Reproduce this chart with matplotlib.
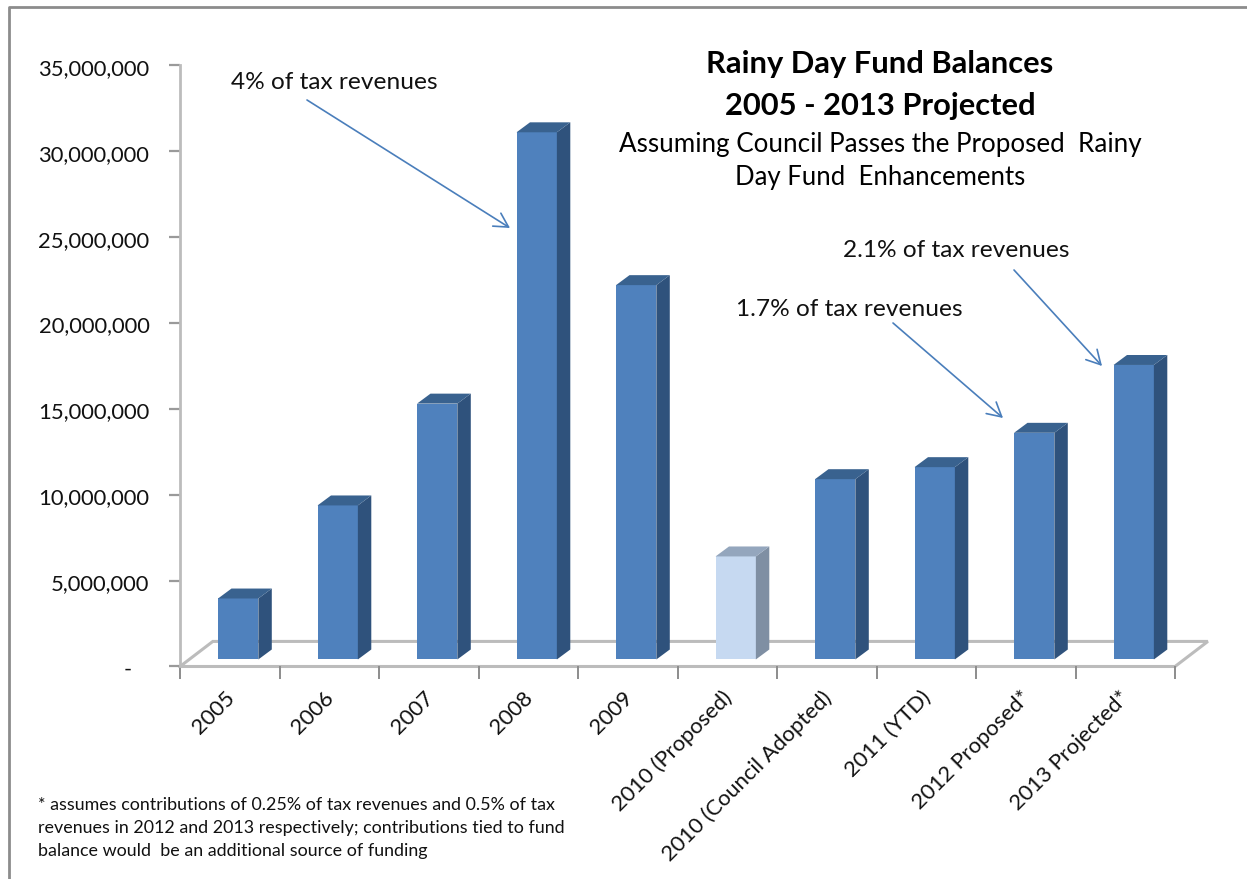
import matplotlib
matplotlib.use("Agg")
import matplotlib.pyplot as plt
from matplotlib.lines import Line2D
from matplotlib.patches import Polygon
from matplotlib.transforms import ScaledTranslation

plt.rcParams['font.family'] = ['Lato', 'DejaVu Sans']

W, H = 1247, 879

categories = ['2005', '2006', '2007', '2008', '2009', '2010 (Proposed)',
              '2010 (Council Adopted)', '2011 (YTD)', '2012 Proposed*', '2013 Projected*']
values = [3550000, 8970000, 14900000, 30700000, 21800000, 6000000,
          10500000, 11200000, 13200000, 17150000]
y_ticks = [0, 5000000, 10000000, 15000000, 20000000, 25000000, 30000000, 35000000]
highlight = '2010 (Proposed)'

footnote = ['* assumes contributions of 0.25% of tax revenues and 0.5% of tax',
            'revenues in 2012 and 2013 respectively; contributions tied to fund',
            'balance would  be an additional source of funding']


def px(x, y):
    # pixel position in the picture -> figure fraction
    return x / W, 1 - y / H


fig = plt.figure(figsize=((W + 0.01) / 100, (H + 0.01) / 100), dpi=100)
ax = fig.add_axes([180 / W, 1 - 666.5 / H, 995 / W, 601 / H])
ax.set_xlim(0, 10)
ax.set_ylim(0, 35000000)
ax.patch.set_alpha(0)

# chart frame
frame = '#8c8c8c'
fig.add_artist(Line2D([9 / W, 9 / W, 1], [0, 1 - 7 / H, 1 - 7 / H], color=frame, lw=2))

# floor of the 3D chart
grey = '#bcbcbc'
floor_x = 0.33
floor_y = 1460000
ax.plot([0, 10, 10 + floor_x, floor_x, 0], [0, 0, floor_y, floor_y, 0],
        color=grey, lw=2.2, clip_on=False, zorder=1, solid_joinstyle='miter')

# bars
bar_w = 0.405
offset = 0.585
base = 410000
depth_x = 0.135
depth_y = 580000
for i, (cat, val) in enumerate(zip(categories, values)):
    if cat == highlight:
        front, side, top = '#c6d9f1', '#7f8fa3', '#94a6bd'
    else:
        front, side, top = '#4f81bd', '#2f527c', '#39628f'
    left = i + offset - bar_w / 2
    right = left + bar_w
    high = base + val
    ax.bar(i + offset, val, width=bar_w, bottom=base, color=front, zorder=3)
    ax.add_patch(Polygon([(right, base), (right + depth_x, base + depth_y),
                          (right + depth_x, high + depth_y), (right, high)],
                         facecolor=side, edgecolor='none', zorder=3))
    ax.add_patch(Polygon([(left, high), (left + depth_x, high + depth_y),
                          (right + depth_x, high + depth_y), (right, high)],
                         facecolor=top, edgecolor='none', zorder=3))

# axes
for name in ['top', 'right']:
    ax.spines[name].set_visible(False)
ax.spines['left'].set_color(grey)
ax.spines['left'].set_linewidth(2)
ax.spines['bottom'].set_visible(False)

ax.set_yticks(y_ticks)
ax.set_yticklabels(['-   '] + [f'{v:,}' for v in y_ticks[1:]])
ax.tick_params(axis='y', length=8, width=1.6, color='#9a9a9a', labelsize=15.8, pad=14,
               labelcolor='#111111')
for lab in ax.get_yticklabels():
    lab.set_transform(lab.get_transform() + ScaledTranslation(0, -1 / 72, fig.dpi_scale_trans))

ax.set_xticks(range(11))
ax.set_xticklabels([])
ax.tick_params(axis='x', which='major', length=9, width=1.4, color='#8c8c8c')
ax.set_xticks([i + 0.5 for i in range(10)], minor=True)
ax.set_xticklabels(categories, minor=True, rotation=45, ha='right', va='top',
                   rotation_mode='anchor', fontsize=15.8, color='#111111')
ax.tick_params(axis='x', which='minor', length=0, pad=15)
for lab in ax.get_xticklabels(minor=True):
    lab.set_transform(lab.get_transform() + ScaledTranslation(-4 / 72, 0, fig.dpi_scale_trans))

# titles
fig.text(*px(880, 64), 'Rainy Day Fund Balances', ha='center', va='center',
         fontsize=22.2, fontweight='bold', color='black')
fig.text(*px(880, 106), '2005 - 2013 Projected', ha='center', va='center',
         fontsize=22.2, fontweight='bold', color='black')
fig.text(*px(880, 144), 'Assuming Council Passes the Proposed  Rainy', ha='center', va='center',
         fontsize=18.7, color='black')
fig.text(*px(880, 177), 'Day Fund  Enhancements', ha='center', va='center',
         fontsize=18.5, color='black')

# callouts
arrow = dict(arrowstyle='->,head_length=1.0,head_width=0.55', color='#4a7ebb', lw=1.2,
             shrinkA=0, shrinkB=0)
callouts = [('4% of tax revenues', 334, 82, (307, 100), (510, 228)),
            ('1.7% of tax revenues', 849, 309, (893, 323), (1003, 418)),
            ('2.1% of tax revenues', 956, 250, (1014, 270), (1102, 366))]
for label, tx, ty, start, end in callouts:
    fig.text(*px(tx, ty), label, ha='center', va='center', fontsize=17.6, color='#111111')
    ax.annotate('', xy=px(*end), xytext=px(*start), xycoords='figure fraction',
                textcoords='figure fraction', arrowprops=arrow, annotation_clip=False)

# footnote
for line, y in zip(footnote, [805, 828, 851]):
    fig.text(*px(38, y), line, ha='left', va='center', fontsize=12.9, color='#111111')

fig.savefig('out.png', dpi=100)
